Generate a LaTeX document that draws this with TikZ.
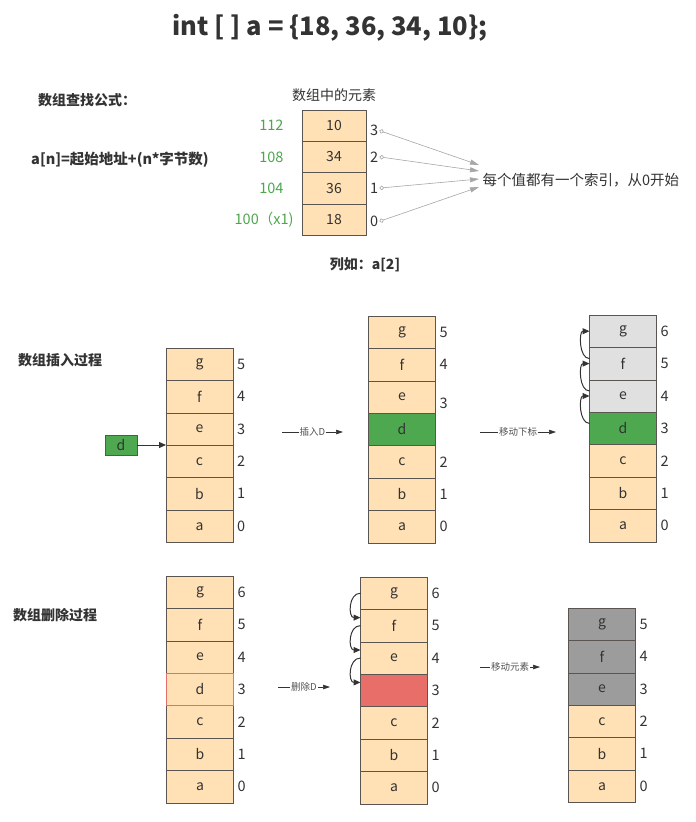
\documentclass[tikz,border=0pt]{standalone}
\usepackage{fontspec}
\setmainfont{Noto Sans CJK SC}
\usepackage{xcolor}
\usepackage{tikz}
\usetikzlibrary{arrows.meta,positioning}
\definecolor{cellfill}{HTML}{FFE1B5}
\definecolor{cellline}{HTML}{5A5550}
\definecolor{celltext}{HTML}{333333}
\definecolor{newgreen}{HTML}{4DA84F}
\definecolor{movedgray}{HTML}{E0E0E0}
\definecolor{shiftgray}{HTML}{9C9C9C}
\definecolor{holered}{HTML}{E86E6A}
\definecolor{addrgreen}{HTML}{4CA64C}

\begin{document}
\begin{tikzpicture}[x=1pt,y=-1pt,
  cell/.style={draw=cellline,fill=cellfill,minimum width=67pt,minimum height=32.4pt,inner sep=0pt,outer sep=0pt,text=celltext,font=\fontsize{14}{16}\selectfont},
  lcell/.style={cell,minimum width=64pt,minimum height=31.25pt},
  newcell/.style={cell,fill=newgreen},
  movedcell/.style={cell,fill=movedgray},
  shiftcell/.style={cell,fill=shiftgray},
  holecell/.style={cell,fill=holered},
  idx/.style={font=\fontsize{14.5}{16}\selectfont,inner sep=1pt,text=celltext},
  addr/.style={font=\fontsize{14.5}{16}\selectfont,text=addrgreen},
  heading/.style={font=\bfseries\fontsize{14}{16}\selectfont,text=celltext},
  plain/.style={font=\fontsize{14}{16}\selectfont,text=celltext},
  flowarrow/.style={-{Triangle[length=7pt,width=4.5pt]},line width=0.6pt,draw=celltext},
  flowlabel/.style={fill=white,inner sep=1pt,font=\fontsize{9.5}{11}\selectfont,text=celltext!85},
  curvearrow/.style={-{Triangle[length=7pt,width=6pt]},line width=1pt,draw=celltext},
  idxarrow/.style={{Circle[open,length=4.5pt]}-{Triangle[length=9pt,width=5pt]},line width=0.6pt,draw=gray!70},
  label distance=3pt
]
\useasboundingbox (0,0) rectangle (696,822);

% title
\node[font=\bfseries\fontsize{25.5}{30}\selectfont,text=celltext] (title) at (330,28) {int [ ] a = \{18, 36, 34, 10\};};

% lookup part
\node[heading] (findhead) at (87,100) {数组查找公式：};
\node[heading,font=\bfseries\fontsize{14.5}{16}\selectfont] (formula) at (120,160) {a[n]=起始地址+(n*字节数)};
\node[lcell] (L3) at (334,125.6) {10};
\node[lcell,below=0pt of L3] (L2) {34};
\node[lcell,below=0pt of L2] (L1) {36};
\node[lcell,below=0pt of L1] (L0) {18};
\node[plain,above=5pt of L3] (elems) {数组中的元素};
\node[addr,left=15pt of L3] (ad3) {112};
\node[addr,left=15pt of L2] (ad2) {108};
\node[addr,left=15pt of L1] (ad1) {104};
\node[addr,left=5pt of L0] (ad0) {100（x1)};
\node[idx,right=3pt of L3,yshift=-5pt] (n3) {3};
\node[idx,right=3pt of L2] (n2) {2};
\node[idx,right=3pt of L1] (n1) {1};
\node[idx,right=3pt of L0,yshift=-2pt] (n0) {0};
\node[plain,anchor=west,font=\fontsize{14.5}{16}\selectfont] (note) at (479,180) {每个值都有一个索引，从0开始};
\draw[idxarrow] (n3.east) -- ([yshift=15pt]note.west);
\draw[idxarrow] (n2.east) -- ([yshift=9pt]note.west);
\draw[idxarrow] (n1.east) -- ([yshift=1pt]note.west);
\draw[idxarrow] (n0.east) -- ([yshift=-7pt]note.west);
\node[heading] (example) at (365,265) {列如：a[2]};

% insert
\node[heading] (inshead) at (60,360) {数组插入过程};
\node[cell,label={[idx]right:5}] (Ag) at (199.5,364.2) {g};
\node[cell,below=0pt of Ag,label={[idx]right:4}] (Af) {f};
\node[cell,below=0pt of Af,label={[idx]right:3}] (Ae) {e};
\node[cell,below=0pt of Ae,label={[idx]right:2}] (Ac) {c};
\node[cell,below=0pt of Ac,label={[idx]right:1}] (Ab) {b};
\node[cell,below=0pt of Ab,label={[idx]right:0}] (Aa) {a};
\node[newcell,minimum width=32pt,minimum height=20pt] (dnew) at (121,445) {d};
\draw[curvearrow] (dnew) -- (dnew -| Ae.west);

\coordinate (insS) at (282,432);
\coordinate (insT) at (343,432);
\draw[flowarrow] (insS) -- node[flowlabel] {插入D} (insT);

\node[cell,label={[idx]right:5}] (Bg) at (402,332.2) {g};
\node[cell,below=0pt of Bg,label={[idx]right:4}] (Bf) {f};
\node[cell,below=0pt of Bf,label={[idx,yshift=-6pt]right:3}] (Be) {e};
\node[newcell,below=0pt of Be] (Bd) {d};
\node[cell,below=0pt of Bd,label={[idx]right:2}] (Bc) {c};
\node[cell,below=0pt of Bc,label={[idx]right:1}] (Bb) {b};
\node[cell,below=0pt of Bb,label={[idx]right:0}] (Ba) {a};

\coordinate (moveS) at (480,432);
\coordinate (moveT) at (556,432);
\draw[flowarrow] (moveS) -- node[flowlabel] {移动下标} (moveT);

\node[movedcell,label={[idx]right:6}] (Cg) at (623,331.2) {g};
\node[movedcell,below=0pt of Cg,label={[idx]right:5}] (Cf) {f};
\node[movedcell,below=0pt of Cf,label={[idx]right:4}] (Ce) {e};
\node[newcell,below=0pt of Ce,label={[idx]right:3}] (Cd) {d};
\node[cell,below=0pt of Cd,label={[idx]right:2}] (Cc) {c};
\node[cell,below=0pt of Cc,label={[idx]right:1}] (Cb) {b};
\node[cell,below=0pt of Cb,label={[idx]right:0}] (Ca) {a};
\draw[curvearrow] ([yshift=5pt]Cd.west) to[out=180,in=180,looseness=1] (Ce.west);
\draw[curvearrow] ([yshift=5pt]Ce.west) to[out=180,in=180,looseness=1] (Cf.west);
\draw[curvearrow] ([yshift=5pt]Cf.west) to[out=180,in=180,looseness=1] (Cg.west);

% delete
\node[heading] (delhead) at (55,615) {数组删除过程};
\node[cell,label={[idx]right:6}] (Dg) at (200,592.2) {g};
\node[cell,below=0pt of Dg,label={[idx]right:5}] (Df) {f};
\node[cell,below=0pt of Df,label={[idx]right:4}] (De) {e};
\node[cell,below=0pt of De,label={[idx]right:3}] (Dd) {d};
\node[cell,below=0pt of Dd,label={[idx]right:2}] (Dc) {c};
\node[cell,below=0pt of Dc,label={[idx]right:1}] (Db) {b};
\node[cell,below=0pt of Db,label={[idx]right:0}] (Da) {a};
\draw[holered,line width=0.6pt] (Dd.south west) rectangle (Dd.north east);

\coordinate (delS) at (278,687);
\coordinate (delT) at (330,687);
\draw[flowarrow] (delS) -- node[flowlabel] {删除D} (delT);

\node[cell,label={[idx]right:6}] (Eg) at (394,593.2) {g};
\node[cell,below=0pt of Eg,label={[idx]right:5}] (Ef) {f};
\node[cell,below=0pt of Ef,label={[idx]right:4}] (Ee) {e};
\node[holecell,below=0pt of Ee,label={[idx]right:3}] (Ehole) {};
\node[cell,below=0pt of Ehole,label={[idx]right:2}] (Ec) {c};
\node[cell,below=0pt of Ec,label={[idx]right:1}] (Eb) {b};
\node[cell,below=0pt of Eb,label={[idx]right:0}] (Ea) {a};
\draw[curvearrow] (Eg.west) to[out=180,in=180,looseness=1.3] ([yshift=8pt]Ef.west);
\draw[curvearrow] (Ef.west) to[out=180,in=180,looseness=1.3] ([yshift=8pt]Ee.west);
\draw[curvearrow] (Ee.west) to[out=180,in=180,looseness=1.3] ([yshift=8pt]Ehole.west);

\coordinate (shiftS) at (480,667);
\coordinate (shiftT) at (540,667);
\draw[flowarrow] (shiftS) -- node[flowlabel] {移动元素} (shiftT);

\node[shiftcell,label={[idx]right:5}] (Fg) at (602,624.2) {g};
\node[shiftcell,below=0pt of Fg,label={[idx]right:4}] (Ff) {f};
\node[shiftcell,below=0pt of Ff,label={[idx]right:3}] (Fe) {e};
\node[cell,below=0pt of Fe,label={[idx]right:2}] (Fc) {c};
\node[cell,below=0pt of Fc,label={[idx]right:1}] (Fb) {b};
\node[cell,below=0pt of Fb,label={[idx]right:0}] (Fa) {a};
\end{tikzpicture}
\end{document}
